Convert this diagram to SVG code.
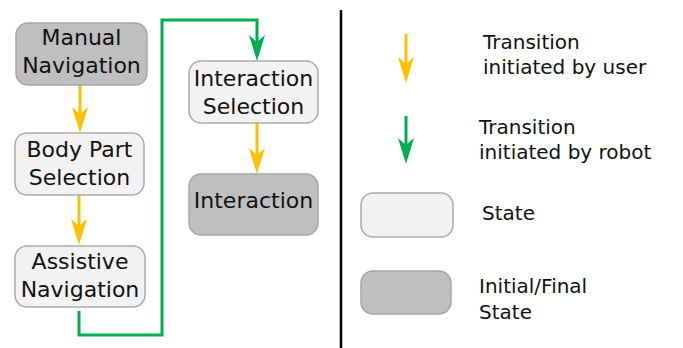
<svg xmlns="http://www.w3.org/2000/svg" width="683" height="348" viewBox="0 0 683 348">
<defs>
<style>
.st{fill:#f2f2f2;stroke:#aaaaaa;stroke-width:1.5}
.fin{fill:#bfbfbf;stroke:#a6a6a6;stroke-width:1.5}
.t{font-family:"DejaVu Sans",sans-serif;font-size:22px;fill:#111111;text-anchor:middle}
.lt{font-family:"DejaVu Sans",sans-serif;font-size:20px;fill:#111111}
.y{fill:none;stroke:#ffc000;stroke-width:3}
.g{fill:none;stroke:#00b050;stroke-width:3}
</style>
<marker id="ay" markerUnits="userSpaceOnUse" viewBox="-27 -9 28 18" markerWidth="28" markerHeight="18" refX="-19" refY="0" orient="auto">
<path d="M0,0 L-26,-8 L-19,0 L-26,8 Z" fill="#ffc000"/>
</marker>
<marker id="ag" markerUnits="userSpaceOnUse" viewBox="-27 -9 28 18" markerWidth="28" markerHeight="18" refX="-19" refY="0" orient="auto">
<path d="M0,0 L-26,-8 L-19,0 L-26,8 Z" fill="#00b050"/>
</marker>
</defs>
<rect x="0" y="0" width="683" height="348" fill="#ffffff"/>
<g id="connectors">
<path class="y" d="M80,85 V114" marker-end="url(#ay)"/>
<path class="y" d="M79,195 V226" marker-end="url(#ay)"/>
<path class="y" d="M257,123 V155" marker-end="url(#ay)"/>
<path class="g" d="M79,311 V335 H162 V20 H257 V42" marker-end="url(#ag)"/>
</g>
<g id="manual-navigation">
<rect class="fin" x="16" y="23" width="131" height="62" rx="12"/>
<text class="t" x="81.5" y="45">Manual</text>
<text class="t" x="81.5" y="73">Navigation</text>
</g>
<g id="body-part-selection">
<rect class="st" x="15" y="133" width="129" height="62" rx="12"/>
<text class="t" x="79.5" y="157">Body Part</text>
<text class="t" x="79.5" y="185">Selection</text>
</g>
<g id="assistive-navigation">
<rect class="st" x="15" y="246" width="130" height="61" rx="12"/>
<text class="t" x="80" y="269">Assistive</text>
<text class="t" x="80" y="297">Navigation</text>
</g>
<g id="interaction-selection">
<rect class="st" x="189" y="61" width="129" height="62" rx="12"/>
<text class="t" x="253.5" y="86">Interaction</text>
<text class="t" x="253.5" y="114">Selection</text>
</g>
<g id="interaction">
<rect class="fin" x="189" y="174" width="129" height="61" rx="12"/>
<text class="t" x="253.5" y="208">Interaction</text>
</g>
<g id="divider">
<line x1="341" y1="10" x2="341" y2="348" stroke="#000000" stroke-width="2.5"/>
</g>
<g id="legend">
<path class="y" d="M406,34 V64" marker-end="url(#ay)"/>
<text class="lt" x="483" y="49">Transition</text>
<text class="lt" x="483" y="74">initiated by user</text>
<path class="g" d="M406,116 V145" marker-end="url(#ag)"/>
<text class="lt" x="479" y="134">Transition</text>
<text class="lt" x="479" y="159">initiated by robot</text>
<rect class="st" x="361" y="193" width="92" height="44" rx="12"/>
<text class="lt" x="482" y="220">State</text>
<rect class="fin" x="361" y="271" width="90" height="43" rx="12"/>
<text class="lt" x="479" y="293">Initial/Final</text>
<text class="lt" x="479" y="319">State</text>
</g>
</svg>
